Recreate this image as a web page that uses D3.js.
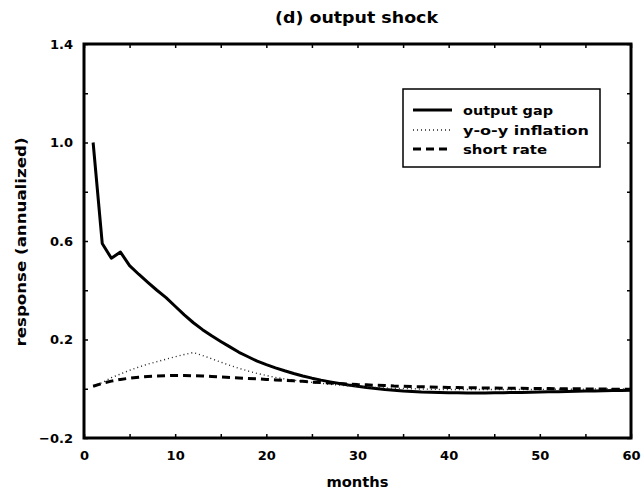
<!DOCTYPE html>
<html>
<head>
<meta charset="utf-8">
<title>(d) output shock</title>
<style>
  body { margin: 0; background: #fff; }
  svg text { font-family: "DejaVu Sans", sans-serif; font-weight: bold; fill: #000; }
  .axis path.domain { display: none; }
  .axis line { stroke: #000; stroke-width: 1.5; }
  .axis text { font-size: 13px; }
</style>
</head>
<body>
<div id="chart"></div>
<script src="https://d3js.org/d3.v7.min.js"></script>
<script>
// months 1..60
var months = d3.range(1, 61);

var outputGap = [
  1.000, 0.590, 0.530, 0.555, 0.500, 0.465, 0.432, 0.400, 0.370, 0.335,
  0.300, 0.268, 0.240, 0.215, 0.192, 0.170, 0.148, 0.130, 0.112, 0.098,
  0.085, 0.073, 0.062, 0.052, 0.043, 0.035, 0.028, 0.021, 0.015, 0.010,
  0.005, 0.001, -0.003, -0.006, -0.009, -0.011, -0.013, -0.014, -0.015, -0.016,
  -0.016, -0.017, -0.017, -0.017, -0.016, -0.016, -0.015, -0.015, -0.014, -0.013,
  -0.012, -0.012, -0.011, -0.010, -0.009, -0.009, -0.008, -0.007, -0.007, -0.006
];

var yoyInflation = [
  0.010, 0.025, 0.045, 0.060, 0.075, 0.088, 0.100, 0.110, 0.120, 0.130,
  0.139, 0.147, 0.135, 0.122, 0.108, 0.095, 0.083, 0.072, 0.062, 0.054,
  0.046, 0.040, 0.035, 0.030, 0.026, 0.022, 0.018, 0.015, 0.012, 0.009,
  0.007, 0.005, 0.003, 0.002, 0.001, 0.000, -0.001, -0.002, -0.003, -0.003,
  -0.003, -0.003, -0.003, -0.003, -0.003, -0.003, -0.003, -0.003, -0.003, -0.003,
  -0.002, -0.002, -0.002, -0.002, -0.002, -0.001, -0.001, -0.001, -0.001, -0.001
];

var shortRate = [
  0.010, 0.022, 0.031, 0.038, 0.043, 0.047, 0.050, 0.052, 0.053, 0.054,
  0.054, 0.053, 0.052, 0.050, 0.048, 0.046, 0.044, 0.042, 0.040, 0.038,
  0.036, 0.034, 0.032, 0.030, 0.027, 0.025, 0.023, 0.021, 0.019, 0.017,
  0.016, 0.014, 0.013, 0.011, 0.010, 0.009, 0.008, 0.007, 0.006, 0.005,
  0.005, 0.004, 0.004, 0.003, 0.003, 0.002, 0.002, 0.002, 0.001, 0.001,
  0.001, 0.000, 0.000, 0.000, -0.001, -0.001, -0.001, -0.002, -0.002, -0.002
];

var seriesNames = ["output gap", "y-o-y inflation", "short rate"];
var xTicks = [0, 5, 10, 15, 20, 25, 30, 35, 40, 45, 50, 55, 60];
var xLabels = [0, 10, 20, 30, 40, 50, 60];
var yTicks = [-0.2, 0, 0.2, 0.4, 0.6, 0.8, 1.0, 1.2, 1.4];
var yLabels = [-0.2, 0.2, 0.6, 1.0, 1.4];

var W = 644, H = 494;
var m = { left: 84, right: 13, top: 44, bottom: 56 };
var pw = W - m.left - m.right, ph = H - m.top - m.bottom;

var svg = d3.select("#chart").append("svg")
  .attr("width", W).attr("height", H);

var x = d3.scaleLinear().domain([0, 60]).range([m.left, m.left + pw]);
var y = d3.scaleLinear().domain([-0.2, 1.4]).range([m.top + ph, m.top]);

var fmt = d3.format(".1f");
function xFmt(d) { return xLabels.indexOf(d) >= 0 ? d : ""; }
function yFmt(d) {
  return yLabels.some(function (v) { return Math.abs(v - d) < 1e-9; }) ? fmt(d) : "";
}

// ticks, all pointing inward
svg.append("g").attr("class", "axis")
  .attr("transform", "translate(0," + (m.top + ph) + ")")
  .call(d3.axisBottom(x).tickValues(xTicks).tickSizeInner(-4).tickSizeOuter(0)
    .tickPadding(13).tickFormat(xFmt));
svg.append("g").attr("class", "axis")
  .attr("transform", "translate(0," + m.top + ")")
  .call(d3.axisTop(x).tickValues(xTicks).tickSizeInner(-4).tickSizeOuter(0).tickFormat(""));
svg.append("g").attr("class", "axis")
  .attr("transform", "translate(" + m.left + ",0)")
  .call(d3.axisLeft(y).tickValues(yTicks).tickSizeInner(-4).tickSizeOuter(0)
    .tickPadding(11).tickFormat(yFmt));
svg.append("g").attr("class", "axis")
  .attr("transform", "translate(" + (m.left + pw) + ",0)")
  .call(d3.axisRight(y).tickValues(yTicks).tickSizeInner(-4).tickSizeOuter(0).tickFormat(""));

// frame
svg.append("rect")
  .attr("x", m.left).attr("y", m.top)
  .attr("width", pw).attr("height", ph)
  .attr("fill", "none").attr("stroke", "#000").attr("stroke-width", 3);

var line = d3.line()
  .x(function (d, i) { return x(months[i]); })
  .y(function (d) { return y(d); });

var styles = [
  { w: 3, dash: null, color: "#000" },
  { w: 1.4, dash: "1,3", color: "#222" },
  { w: 3, dash: "8,5", color: "#000" }
];
var allSeries = [outputGap, yoyInflation, shortRate];

svg.selectAll("path.series")
  .data(allSeries)
  .enter().append("path")
  .attr("class", "series")
  .attr("d", line)
  .attr("fill", "none")
  .attr("stroke", function (d, i) { return styles[i].color; })
  .attr("stroke-width", function (d, i) { return styles[i].w; })
  .attr("stroke-dasharray", function (d, i) { return styles[i].dash; })
  .attr("stroke-linejoin", "round");

// legend
var lg = svg.append("g");
lg.append("rect")
  .attr("x", 403).attr("y", 89).attr("width", 197).attr("height", 78)
  .attr("fill", "#fff").attr("stroke", "#000").attr("stroke-width", 1.5);
var legendLens = [90, 126, 84];
var rows = lg.selectAll("g.row").data(seriesNames).enter().append("g")
  .attr("transform", function (d, i) { return "translate(0," + [110, 130, 149][i] + ")"; });
rows.append("line")
  .attr("x1", 413).attr("x2", 452).attr("y1", 0).attr("y2", 0)
  .attr("stroke", function (d, i) { return styles[i].color; })
  .attr("stroke-width", function (d, i) { return styles[i].w; })
  .attr("stroke-dasharray", function (d, i) { return styles[i].dash; });
rows.append("text")
  .attr("x", 463).attr("dy", "0.35em")
  .style("font-size", "13px")
  .attr("textLength", function (d, i) { return legendLens[i]; })
  .attr("lengthAdjust", "spacingAndGlyphs")
  .text(function (d) { return d; });

// titles
svg.append("text")
  .attr("x", 356.5).attr("y", 23)
  .attr("text-anchor", "middle")
  .style("font-size", "15px")
  .attr("textLength", 163).attr("lengthAdjust", "spacingAndGlyphs")
  .text("(d) output shock");

svg.append("text")
  .attr("x", m.left + pw / 2).attr("y", 487)
  .attr("text-anchor", "middle")
  .style("font-size", "14px")
  .attr("textLength", 62).attr("lengthAdjust", "spacingAndGlyphs")
  .text("months");

svg.append("text")
  .attr("transform", "translate(26,242) rotate(-90)")
  .attr("text-anchor", "middle")
  .style("font-size", "14px")
  .attr("textLength", 209).attr("lengthAdjust", "spacingAndGlyphs")
  .text("response (annualized)");
</script>
</body>
</html>
